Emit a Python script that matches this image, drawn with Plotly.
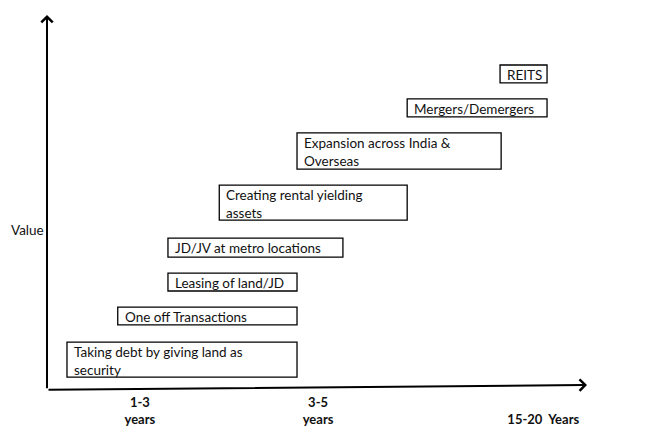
import plotly.graph_objects as go

# Data (timeline units on x, value units on y)
labels = [
    "Taking debt by giving land as<br>security",
    "One off Transactions",
    "Leasing of land/JD",
    "JD/JV at metro locations",
    "Creating rental yielding<br>assets",
    "Expansion across India &<br>Overseas",
    "Mergers/Demergers",
    "REITS",
]
x_start = [0.37, 1.31, 2.24, 2.24, 3.19, 4.63, 6.67, 8.39]
x_end = [4.63, 4.63, 4.63, 5.48, 6.67, 8.41, 9.26, 9.26]
y_low = [0.29, 1.69, 2.60, 3.51, 4.50, 5.87, 7.27, 8.18]
y_high = [1.23, 2.17, 3.08, 4.02, 5.44, 6.84, 7.75, 8.66]

tick_vals = [1.72, 5.02, 9.19]
tick_text = ["1-3<br>years", "3-5<br>years", " <br>15-20\u00a0 Years"]

FONT = "Lato"

fig = go.Figure()
# invisible trace to establish axes
fig.add_trace(go.Scatter(x=[0, 10], y=[0, 10], mode="markers",
                         marker=dict(opacity=0), hoverinfo="skip", showlegend=False))

for lab, x0, x1, y0, y1 in zip(labels, x_start, x_end, y_low, y_high):
    fig.add_shape(type="rect", xref="x", yref="y", x0=x0, x1=x1, y0=y0, y1=y1,
                  line=dict(color="black", width=1.3), fillcolor="rgba(0,0,0,0)")
    fig.add_annotation(x=x0, y=y1, xref="x", yref="y", text=lab, showarrow=False,
                       xanchor="left", yanchor="top", align="left", xshift=5, yshift=0,
                       font=dict(family=FONT, size=13.5, color="#111111"))

# axes arrows
fig.add_annotation(x=0, y=10, ax=0, ay=-0.05, xref="x", yref="y", axref="x", ayref="y",
                   showarrow=True, arrowhead=4, arrowsize=1.1, arrowwidth=2,
                   arrowcolor="black", text="")
fig.add_annotation(x=10, y=0.08, ax=0, ay=-0.05, xref="x", yref="y", axref="x", ayref="y",
                   showarrow=True, arrowhead=4, arrowsize=1.1, arrowwidth=2,
                   arrowcolor="black", text="")

fig.add_annotation(x=-0.037, y=4.24, xref="paper", yref="y", text="Value", showarrow=False,
                   xanchor="center", yanchor="middle",
                   font=dict(family=FONT, size=13.5, color="#111111"))

fig.update_layout(
    width=646, height=440,
    margin=dict(l=39, r=67, t=7, b=60),
    paper_bgcolor="white", plot_bgcolor="white",
    xaxis=dict(range=[0, 10], showgrid=False, zeroline=False, showline=False,
               tickvals=tick_vals, ticktext=tick_text, ticks="", ticklabelstandoff=5,
               tickfont=dict(family=FONT, size=13, color="#111111", weight="bold")),
    yaxis=dict(range=[0, 10], showgrid=False, zeroline=False, showline=False,
               showticklabels=False, ticks=""),
)

fig.write_html("out.html")
